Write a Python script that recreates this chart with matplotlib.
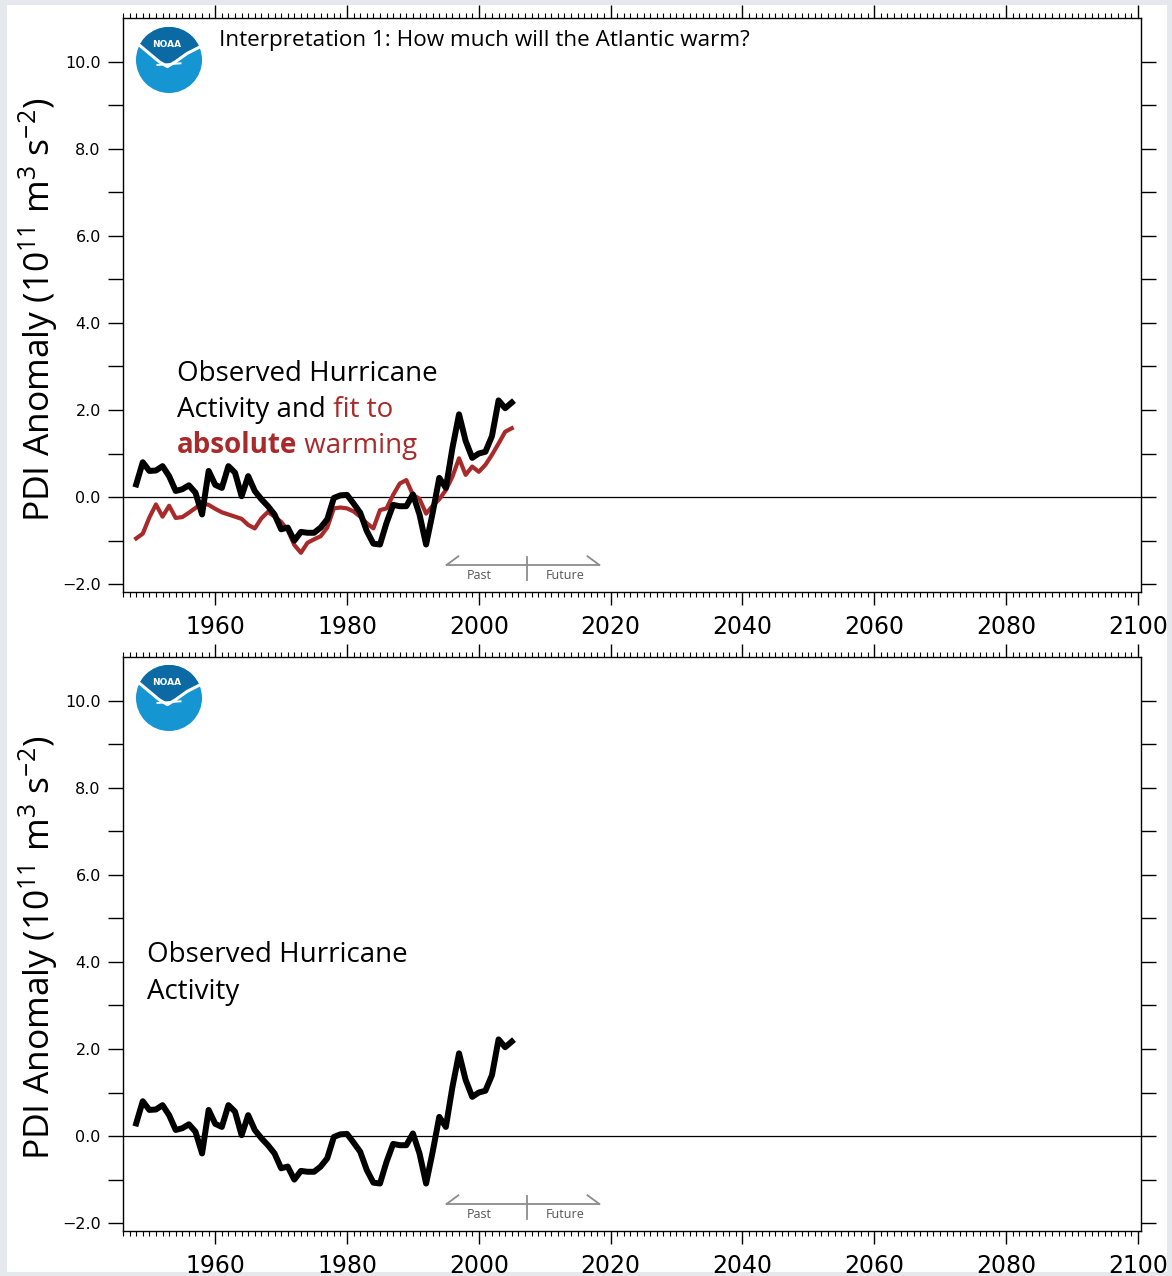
import numpy as np
import matplotlib
matplotlib.use("Agg")
import matplotlib.pyplot as plt
from matplotlib.patches import Circle, Polygon, Rectangle
from matplotlib.ticker import MultipleLocator, FuncFormatter

plt.rcParams['mathtext.fontset'] = 'custom'
plt.rcParams['mathtext.rm'] = 'Open Sans'
plt.rcParams['mathtext.it'] = 'Open Sans:italic'
plt.rcParams['mathtext.bf'] = 'Open Sans:bold'

# observed PDI anomaly and the fit to absolute SST warming (10^11 m^3 s^-2)
years = np.arange(1948, 2006)
observed = [0.29, 0.80, 0.60, 0.61, 0.71, 0.48, 0.14, 0.18, 0.27, 0.10,
            -0.40, 0.60, 0.28, 0.21, 0.71, 0.56, 0.02, 0.48, 0.14, -0.05,
            -0.21, -0.40, -0.74, -0.70, -1.00, -0.80, -0.82, -0.82, -0.70, -0.51,
            -0.02, 0.04, 0.05, -0.15, -0.36, -0.78, -1.07, -1.09, -0.59, -0.18,
            -0.21, -0.21, 0.06, -0.40, -1.09, -0.36, 0.44, 0.21, 1.13, 1.90,
            1.29, 0.90, 1.00, 1.04, 1.40, 2.22, 2.04, 2.17]
fit_absolute = [-0.95, -0.84, -0.47, -0.17, -0.45, -0.20, -0.48, -0.46, -0.36, -0.25,
                -0.14, -0.18, -0.27, -0.35, -0.40, -0.45, -0.50, -0.64, -0.72, -0.49,
                -0.34, -0.45, -0.57, -0.76, -1.10, -1.28, -1.05, -0.97, -0.90, -0.70,
                -0.26, -0.24, -0.26, -0.33, -0.45, -0.60, -0.72, -0.30, -0.26, 0.05,
                0.31, 0.39, 0.05, -0.04, -0.38, -0.20, -0.05, 0.16, 0.47, 0.89,
                0.51, 0.70, 0.58, 0.74, 0.97, 1.23, 1.50, 1.58]

RED = '#a82a2a'
W, H = 1172, 1276
SANS = 'Open Sans'
NOTE = 20

fig = plt.figure(figsize=(W / 100, H / 100), dpi=100)
fig.patch.set_facecolor('#e5e8ec')
fig.patches.append(Rectangle((7 / W, 1 - 1272 / H), 1160 / W, 1267 / H,
                             transform=fig.transFigure, facecolor='white',
                             edgecolor='none', zorder=-1))


def ytick_fmt(v, pos):
    if int(round(v)) % 2:
        return ''
    return f"{v:.1f}".replace('-', '\u2212')


def style_axes(ax):
    ax.set_xlim(1946, 2100.5)
    ax.set_ylim(-2.18, 11.0)
    ax.set_xticks(np.arange(1960, 2101, 20))
    ax.xaxis.set_minor_locator(MultipleLocator(1))
    ax.set_yticks(np.arange(-2, 11, 1))
    ax.yaxis.set_major_formatter(FuncFormatter(ytick_fmt))
    ax.tick_params(axis='x', which='both', direction='out', top=True, bottom=True,
                   labeltop=False, labelsize=17, pad=7)
    ax.tick_params(axis='x', which='major', length=9.5, width=1)
    ax.tick_params(axis='x', which='minor', length=3.6, width=0.8)
    ax.tick_params(axis='y', direction='out', left=True, right=True, length=11,
                   width=1, labelsize=11.5, pad=5)
    for s in ax.spines.values():
        s.set_linewidth(1)
    ax.axhline(0, color='black', lw=0.9, zorder=1)

    # past / future marker
    g = '#8c8c8c'
    ax.plot([1995.1, 2018.3], [-1.56, -1.56], color=g, lw=1.3)
    ax.plot([1995.1, 1996.9], [-1.56, -1.36], color=g, lw=1.3)
    ax.plot([2018.3, 2016.5], [-1.56, -1.36], color=g, lw=1.3)
    ax.plot([2007.3, 2007.3], [-1.38, -1.91], color=g, lw=1.3)
    ax.text(2000.0, -1.79, 'Past', ha='center', va='center', fontsize=9,
            color='#555555', family=SANS)
    ax.text(2013.1, -1.79, 'Future', ha='center', va='center', fontsize=9,
            color='#555555', family=SANS)


def noaa_logo(cx, cy):
    size = 70
    lax = fig.add_axes([(cx - size / 2) / W, 1 - (cy + size / 2) / H, size / W, size / H])
    lax.set_xlim(-1.06, 1.06)
    lax.set_ylim(-1.06, 1.06)
    lax.set_aspect('equal')
    lax.axis('off')
    circ = Circle((0, 0), 1, facecolor='#1596d2', edgecolor='none')
    lax.add_patch(circ)
    wing = [(-1.1, 0.62), (-0.6, 0.2), (-0.3, -0.05), (-0.05, -0.2),
            (0.2, -0.05), (0.55, 0.2), (1.1, 0.48)]
    dark = Polygon(wing + [(1.2, 1.2), (-1.2, 1.2)], closed=True,
                   facecolor='#0b69a3', edgecolor='none')
    lax.add_patch(dark)
    dark.set_clip_path(circ)
    wx, wy = zip(*wing)
    lax.plot(wx, wy, color='white', lw=2.2, solid_capstyle='round')
    lax.plot([-0.35, 0.35], [-0.15, -0.1], color='white', lw=1.4)
    lax.text(-0.07, 0.48, 'NOAA', color='white', fontsize=6.5, weight='bold',
             ha='center', va='center')


ax1 = fig.add_axes([123 / W, 1 - 592 / H, 1018 / W, 574 / H])
style_axes(ax1)
ax1.plot(years, fit_absolute, color=RED, lw=3.0, zorder=3)
ax1.plot(years, observed, color='black', lw=4.3, zorder=4)
ax1.text(0.0943, 0.9512, 'Interpretation 1: How much will the Atlantic warm?',
         transform=ax1.transAxes, fontsize=16.2, family=SANS, va='baseline')
tx = 0.053
ax1.text(tx, 0.3676, 'Observed Hurricane', transform=ax1.transAxes, fontsize=NOTE,
         family=SANS, va='baseline')
t2 = ax1.text(tx, 0.3049, 'Activity and', transform=ax1.transAxes, fontsize=NOTE,
              family=SANS, va='baseline')
ax1.annotate(' fit to', xy=(1, 0), xycoords=t2, va='bottom', ha='left',
             fontsize=NOTE, family=SANS, color=RED)
t3 = ax1.text(tx, 0.2422, 'absolute', transform=ax1.transAxes, fontsize=NOTE,
              family=SANS, va='baseline', weight='bold', color=RED)
ax1.annotate(' warming', xy=(1, 0), xycoords=t3, va='bottom', ha='left',
             fontsize=NOTE, family=SANS, color=RED)

ax2 = fig.add_axes([123 / W, 1 - 1231 / H, 1018 / W, 574 / H])
style_axes(ax2)
ax2.plot(years, observed, color='black', lw=4.3, zorder=4)
ax2.text(0.0236, 0.4686, 'Observed Hurricane', transform=ax2.transAxes, fontsize=NOTE,
         family=SANS, va='baseline')
ax2.text(0.0236, 0.4042, 'Activity', transform=ax2.transAxes, fontsize=NOTE,
         family=SANS, va='baseline')

ylab = r'PDI Anomaly (10$^{11}$ m$^{3}$ s$^{\mathrm{-2}}$)'
for cy in (310, 948):
    fig.text(38 / W, 1 - cy / H, ylab, rotation=90, ha='center', va='center',
             fontsize=25.5, family=SANS)

noaa_logo(169, 60)
noaa_logo(169, 698)

fig.savefig('out.png', dpi=100, facecolor=fig.get_facecolor())
